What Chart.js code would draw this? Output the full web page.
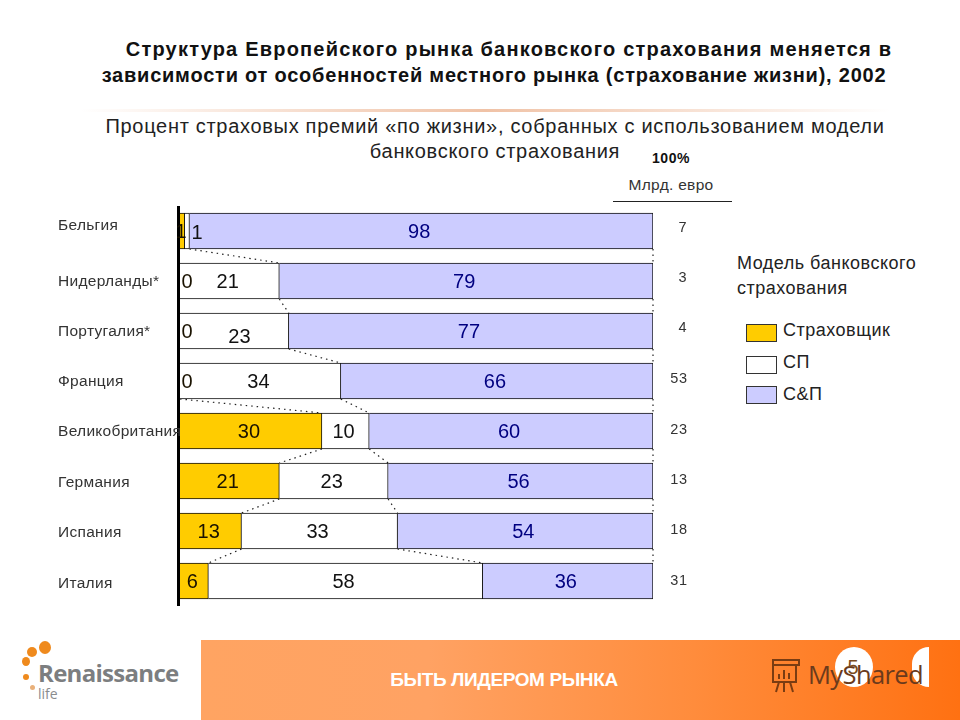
<!DOCTYPE html>
<html lang="ru">
<head>
<meta charset="utf-8">
<title>Структура Европейского рынка банковского страхования</title>
<script src="https://cdn.jsdelivr.net/npm/chart.js@4"></script>
<style>
    html, body { margin: 0; padding: 0; background: #fff; }
    body { position: relative; width: 960px; height: 720px; overflow: hidden; font-family: "Liberation Sans", Arial, sans-serif; color: #111; }
    canvas { position: absolute; left: 0; top: 0; }
    .txt { position: absolute; white-space: nowrap; line-height: 1; }
    .center { transform: translateX(-50%); text-align: center; }
    .title { font-size: 20px; font-weight: bold; }
    .subtitle { left: 495px; font-size: 20px; letter-spacing: 0.7px; color: #222; }
    .rule { position: absolute; left: 80px; top: 109px; width: 810px; height: 3px; background: linear-gradient(90deg, #fff, #f0c2a6 50%, #fff); }
    .swatch { position: absolute; left: 746px; width: 29px; height: 16px; border: 1px solid #333; }
    .footer { position: absolute; left: 201px; top: 640px; width: 759px; height: 80px; background: linear-gradient(90deg, #ffa462 0%, #ffa263 30%, #ff8c3c 65%, #ff7112 100%); }
    .dot { position: absolute; border-radius: 50%; background: #ef8a1d; }
</style>
</head>
<body>
<div class="txt center title" style="left:509px;top:39px;letter-spacing:1.2px">Структура Европейского рынка банковского страхования меняется в</div>
<div class="txt center title" style="left:494px;top:65px;letter-spacing:0.78px">зависимости от особенностей местного рынка (страхование жизни), 2002</div>
<div class="rule"></div>
<div class="txt center subtitle" style="top:116px">Процент страховых премий «по жизни», собранных с использованием модели</div>
<div class="txt center subtitle" style="top:141px">банковского страхования</div>
<div class="txt center" style="left:671px;top:151px;font-size:14px;font-weight:bold;letter-spacing:0.6px">100%</div>
<div class="txt center" style="left:671px;top:177px;font-size:15.5px;letter-spacing:0.3px;color:#333">Млрд. евро</div>
<div style="position:absolute;left:613px;top:201px;width:119px;height:1px;background:#222"></div>

<div class="txt" style="left:737px;top:251px;font-size:18px;line-height:25px;letter-spacing:0.5px;color:#222">Модель банковского<br>страхования</div>
<div id="legend"></div>

<div class="footer"></div>
<div class="txt center" style="left:504px;top:670px;font-size:19px;font-weight:bold;color:#fff;letter-spacing:-0.4px">БЫТЬ ЛИДЕРОМ РЫНКА</div>

<div class="dot" style="left:39px;top:641px;width:12px;height:13px"></div>
<div class="dot" style="left:27px;top:647px;width:10px;height:10px"></div>
<div class="dot" style="left:22px;top:657px;width:8px;height:9px"></div>
<div class="dot" style="left:23px;top:674px;width:6px;height:6px"></div>
<div class="dot" style="left:30px;top:685px;width:5px;height:5px;background:#e9b07a"></div>
<div class="txt" style="left:38px;top:661px;font-family:'Open Sans';font-size:24px;font-weight:700;color:#7c7e80;letter-spacing:-0.7px">Renaissance</div>
<div class="txt" style="left:38px;top:687px;font-family:'Open Sans';font-size:14px;color:#8a8c8e">life</div>

<div style="position:absolute;left:835px;top:647px;width:38px;height:40px;border-radius:50%;background:#fff"></div>
<div style="position:absolute;left:912px;top:647px;width:17px;height:40px;border-radius:17px 0 0 17px;background:#fff"></div>
<svg style="position:absolute;left:768px;top:657px" width="34" height="36" fill="none" stroke="#7a3c12" stroke-width="2">
    <rect x="5" y="3" width="26" height="5"/>
    <rect x="5" y="8" width="23" height="17"/>
    <path d="M11 22v-5M16 22v-9M21 22v-6M11 25l-3 10M22 25l3 10M16 25v10"/>
</svg>
<div class="txt" style="left:808px;top:662px;font-family:'Open Sans';font-size:25.5px;color:#6b3a1c;letter-spacing:-0.6px">MyShared</div>
<div class="txt center" style="left:853px;top:657px;font-size:20px;color:#7a4a20">5</div>

<canvas id="chart" width="960" height="720"></canvas>

<script>
const countries = ['Бельгия', 'Нидерланды*', 'Португалия*', 'Франция', 'Великобритания', 'Германия', 'Испания', 'Италия'];
const insurer = [1, 0, 0, 0, 30, 21, 13, 6];
const jointVenture = [1, 21, 23, 34, 10, 23, 33, 58];
const cAndP = [98, 79, 77, 66, 60, 56, 54, 36];
const premiums = [7, 3, 4, 53, 23, 13, 18, 31];
const seriesNames = ['Страховщик', 'СП', 'С&П'];
const seriesColors = ['#ffcc00', '#ffffff', '#ccccff'];
const labelColors = ['#1a1200', '#111111', '#000080'];

// the row texts in the original are not quite on the bar centres
const nameNudge = [-5, 1, 1, 1, 1, 2, 2, 3];
const premiumNudge = [-3, -3, -3, -2, -1, -1, -1, 0];

// legend sits next to the chart, in the page itself
const legendBoxTops = [324, 356, 386];
const legendTextTops = [321, 353, 385];
const legendBox = document.getElementById('legend');
seriesNames.forEach((name, i) => {
    const box = document.createElement('div');
    box.className = 'swatch';
    box.style.top = legendBoxTops[i] + 'px';
    box.style.background = seriesColors[i];
    legendBox.appendChild(box);

    const text = document.createElement('div');
    text.className = 'txt';
    text.style.cssText = `left:783px;top:${legendTextTops[i]}px;font-size:18px;letter-spacing:0.5px;color:#222`;
    text.textContent = name;
    legendBox.appendChild(text);
});

// dotted lines joining the segment edges of neighbouring bars
const connectorsPlugin = {
    id: 'connectors',
    beforeDatasetsDraw(chart) {
        const { ctx, scales: { x, y } } = chart;
        const halfBar = 18;
        ctx.save();
        ctx.strokeStyle = '#222';
        ctx.lineWidth = 1.2;
        ctx.setLineDash([1.5, 4]);
        for (let i = 0; i < countries.length - 1; i++) {
            const edges = [
                [insurer[i], insurer[i + 1]],
                [insurer[i] + jointVenture[i], insurer[i + 1] + jointVenture[i + 1]],
                [100, 100]
            ];
            edges.forEach(([from, to]) => {
                // edges that stay on the zero line would just sit on the axis
                if (Math.max(from, to) < 2) return;
                ctx.beginPath();
                ctx.moveTo(x.getPixelForValue(from), y.getPixelForValue(i) + halfBar);
                ctx.lineTo(x.getPixelForValue(to), y.getPixelForValue(i + 1) - halfBar);
                ctx.stroke();
            });
        }
        ctx.restore();
    }
};

// segment values, country names, the totals column and the thick zero line
const labelsPlugin = {
    id: 'rowLabels',
    afterDatasetsDraw(chart) {
        const { ctx, chartArea, scales: { x, y } } = chart;

        ctx.save();
        ctx.strokeStyle = '#000';
        ctx.lineWidth = 3;
        ctx.beginPath();
        ctx.moveTo(x.getPixelForValue(0) - 1.5, chartArea.top);
        ctx.lineTo(x.getPixelForValue(0) - 1.5, chartArea.bottom);
        ctx.stroke();

        ctx.textBaseline = 'middle';
        ctx.textAlign = 'center';
        ctx.font = '20px "Liberation Sans"';
        chart.data.datasets.forEach((dataset, s) => {
            ctx.fillStyle = labelColors[s];
            dataset.data.forEach((value, i) => {
                const start = chart.data.datasets.slice(0, s).reduce((sum, d) => sum + d.data[i], 0);
                let px = x.getPixelForValue(start + value / 2) - 2;
                let py = y.getPixelForValue(i) + 1;
                // the tiny segments have their numbers pushed to the side
                if (value === 0) px = x.getPixelForValue(0) + 7;
                if (value === 1) px = x.getPixelForValue(0) + (s === 0 ? 1 : 17);
                if (value === 1 && s === 1) py += 1;
                // Portugal's 23 sits low and to the right in the original
                if (value === 23 && i === 2) { px += 7; py += 5; }
                ctx.fillText(String(value), px, py);
            });
        });

        ctx.fillStyle = '#333';
        ctx.font = '15.5px "Liberation Sans"';
        ctx.letterSpacing = '0.3px';
        ctx.textAlign = 'left';
        countries.forEach((name, i) => ctx.fillText(name, 58, y.getPixelForValue(i) + nameNudge[i]));

        ctx.font = '14.5px "Liberation Sans"';
        ctx.letterSpacing = '0.8px';
        ctx.textAlign = 'center';
        premiums.forEach((value, i) => ctx.fillText(String(value), value < 10 ? 683 : 679, y.getPixelForValue(i) + premiumNudge[i]));
        ctx.restore();
    }
};

new Chart(document.getElementById('chart').getContext('2d'), {
    type: 'bar',
    data: {
        labels: countries,
        datasets: [insurer, jointVenture, cAndP].map((values, i) => ({
            label: seriesNames[i],
            data: values,
            backgroundColor: seriesColors[i],
            borderColor: '#111',
            borderWidth: 1,
            barThickness: 36
        }))
    },
    options: {
        indexAxis: 'y',
        responsive: false,
        animation: false,
        layout: { padding: { left: 180, right: 307, top: 206, bottom: 114 } },
        scales: {
            x: { stacked: true, min: 0, max: 100, display: false },
            y: { stacked: true, display: false }
        },
        plugins: {
            legend: { display: false },
            tooltip: { enabled: false }
        }
    },
    plugins: [connectorsPlugin, labelsPlugin]
});
</script>
</body>
</html>
